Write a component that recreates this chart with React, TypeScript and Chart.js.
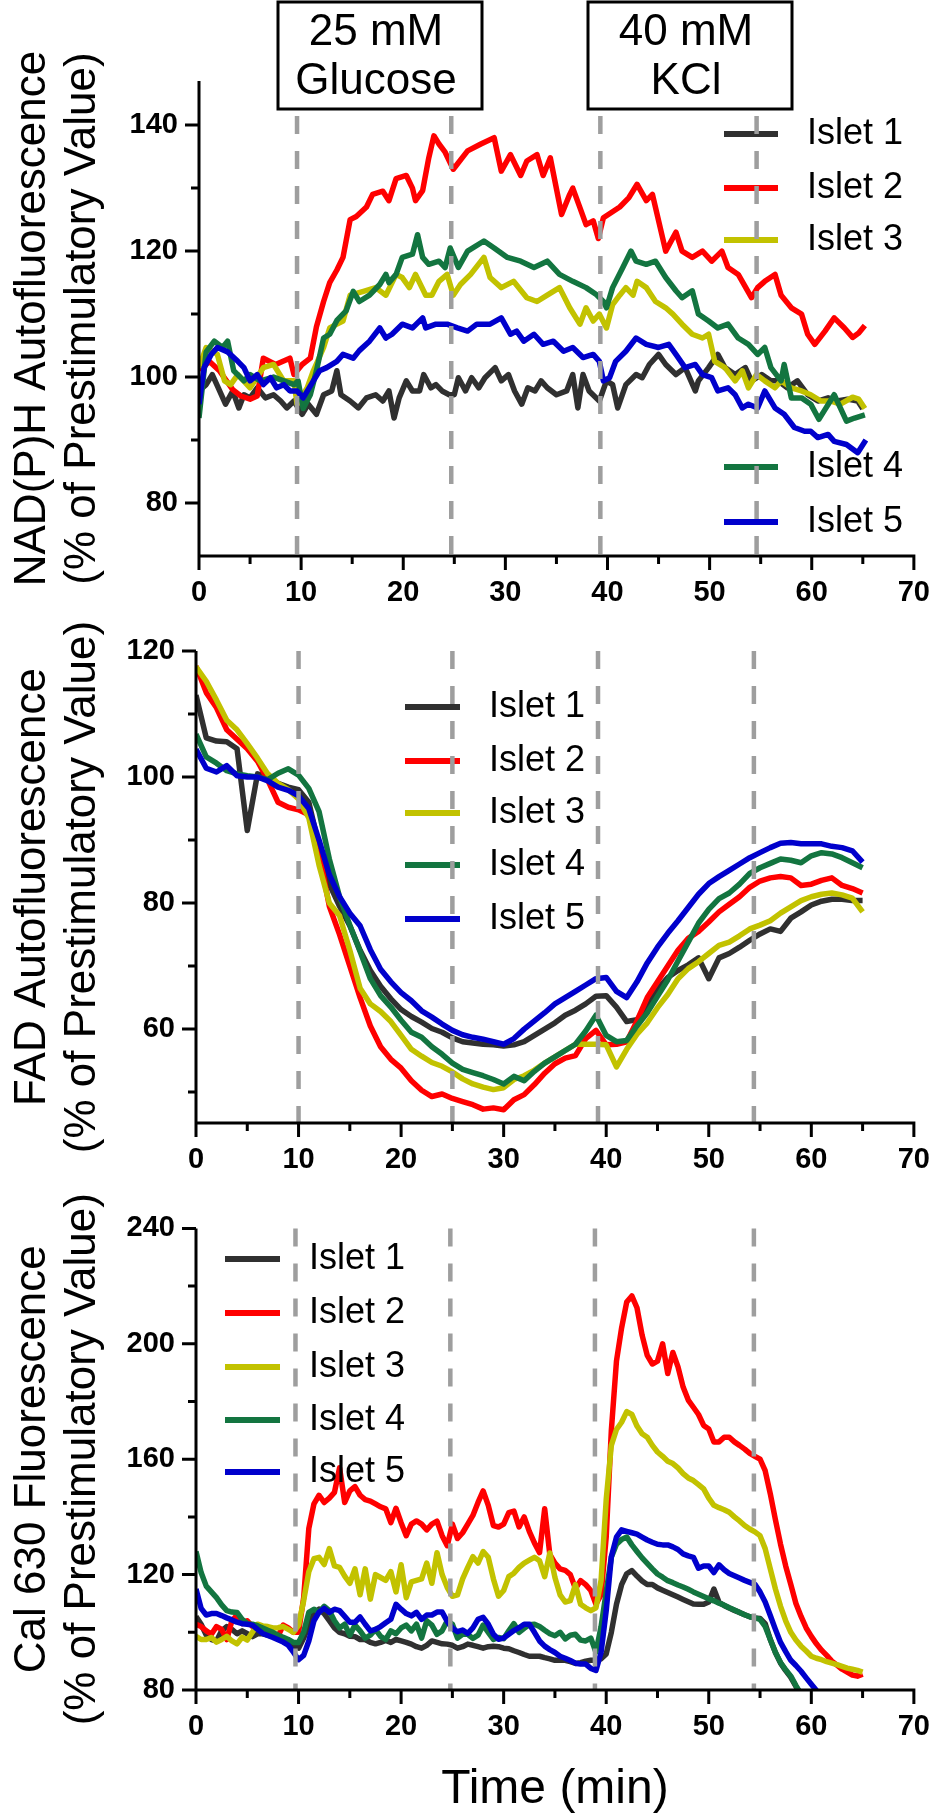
import React, { useEffect, useRef } from 'react';
import { Chart, registerables } from 'chart.js';

Chart.register(...registerables);

const FONT = '"Liberation Sans", Arial, Helvetica, sans-serif';

const SERIES_NAMES = ['Islet 1', 'Islet 2', 'Islet 3', 'Islet 4', 'Islet 5'];
const SERIES_COLORS = ['#303030', '#ff0000', '#c2c200', '#137540', '#0000cc'];

const X_TICKS = [0, 10, 20, 30, 40, 50, 60, 70];
const X_MINOR = [5, 15, 25, 35, 45, 55, 65];

// shared time categories (minutes) for panels 2 and 3
const MIN_STEP1 = Array.from({ length: 66 }, (_, i) => i);
const MIN_STEP_HALF = Array.from({ length: 131 }, (_, i) => i / 2);

// ---------- Panel 1: NAD(P)H (read points: time, value) ----------
const P1_ISLET1_T = [0, 0.7, 1.3, 1.8, 2.6, 3.3, 3.9, 4.4, 5.0, 5.7, 6.5, 7.3, 8.0, 8.6, 9.3, 10.1, 10.7, 11.5, 12.2, 13.0, 13.5, 13.9, 14.8, 15.6, 16.4, 17.3, 18.0, 18.6, 19.1, 19.6, 20.3, 20.9, 21.6, 22.0, 22.7, 23.2, 23.8, 24.5, 25.0, 25.4, 26.1, 26.7, 27.4, 28.0, 29.0, 29.6, 30.3, 30.9, 31.6, 32.2, 32.9, 33.5, 34.1, 35.0, 36.0, 36.6, 37.1, 37.6, 38.2, 39.2, 39.9, 40.5, 41.0, 41.8, 42.8, 43.4, 44.1, 45.0, 45.7, 46.7, 47.6, 48.6, 48.9, 49.9, 50.8, 51.5, 52.5, 53.5, 54.1, 55.1, 56.0, 56.7, 57.6, 58.6, 59.6, 60.6, 61.6, 62.5, 63.5, 64.5, 65.0];
const P1_ISLET1_V = [97.8, 98.8, 100.4, 98.6, 95.7, 97.8, 95.1, 97.2, 96.7, 98.3, 96.7, 97.2, 96.2, 95.1, 96.2, 94.1, 95.7, 94.1, 97.2, 97.8, 101, 97.2, 96.2, 95.1, 96.7, 97.2, 96.2, 97.8, 93.5, 96.7, 99.4, 97.8, 97.8, 100.4, 98.3, 98.8, 97.8, 97.2, 97.2, 99.9, 97.8, 99.9, 98.3, 99.9, 101.5, 99.4, 100.4, 97.8, 95.7, 98.3, 97.8, 99.4, 98.3, 97.2, 97.8, 100.4, 95.1, 100.4, 97.8, 96.2, 99.4, 98.8, 95.1, 98.8, 100.4, 99.9, 102, 103.6, 102, 100.4, 101.5, 97.8, 99.4, 101.5, 103.6, 101.5, 100.4, 101.5, 99.4, 100.4, 99.4, 99.4, 98.3, 99.4, 97.2, 96.2, 96.7, 96.2, 96.5, 96.2, 95];
const P1_ISLET2_T = [0.1, 1.0, 2.0, 3.3, 4.1, 5.0, 5.7, 6.3, 7.5, 8.9, 9.3, 10.1, 10.9, 11.5, 12.2, 12.8, 13.5, 14.1, 14.8, 15.4, 16.4, 17.0, 18.0, 18.6, 19.3, 20.3, 20.9, 21.2, 21.9, 22.5, 23.0, 23.5, 24.1, 24.9, 26.3, 27.6, 28.9, 29.6, 30.5, 31.5, 32.1, 33.1, 33.7, 34.4, 35.5, 36.3, 36.6, 37.3, 37.9, 38.6, 39.1, 39.6, 41.2, 42.1, 42.9, 43.8, 44.4, 45.7, 46.7, 47.3, 48.3, 49.3, 50.2, 51.2, 51.8, 52.8, 54.1, 54.7, 55.4, 56.4, 57.0, 58.0, 59.0, 59.6, 60.3, 61.3, 62.2, 63.2, 64.0, 64.6, 65.2];
const P1_ISLET2_V = [101, 102.5, 101, 98, 97, 96.5, 97, 103, 102, 103, 100.4, 102, 103, 108, 112, 115, 117, 119, 125, 125.5, 127, 129, 129.5, 128, 131.5, 132, 130, 128, 129.6, 134.8, 138.3, 137, 135.7, 133, 135.9, 137, 138, 132.7, 135.3, 132, 134.3, 135.3, 132, 134.8, 125.8, 129, 130, 126.9, 124.2, 124.8, 122, 125.3, 127, 128.5, 130.6, 128, 129, 120, 123, 120, 119, 120, 118.4, 120, 117.4, 116.3, 112.6, 114.2, 115.2, 116.3, 113, 111, 110, 106.8, 105.2, 107.3, 109.4, 107.8, 106.3, 107, 108.2];
const P1_ISLET3_T = [0, 0.7, 1.8, 2.5, 3.1, 3.8, 5.0, 6.3, 7.3, 8.3, 9.3, 9.6, 10.6, 11.2, 12.2, 12.8, 13.5, 14.1, 14.8, 16.1, 17.3, 18.3, 19.3, 19.9, 20.6, 21.2, 22.2, 22.8, 23.5, 24.3, 24.9, 25.6, 26.6, 27.9, 28.5, 29.6, 30.8, 32.1, 33.1, 34.1, 35.3, 36.3, 37.3, 37.9, 38.6, 39.2, 39.9, 40.5, 41.2, 41.8, 42.5, 42.9, 43.8, 44.7, 45.7, 46.4, 47.3, 48.3, 49.3, 49.9, 50.5, 51.5, 52.5, 53.2, 53.8, 54.6, 55.4, 56.4, 57.0, 58.0, 59.0, 59.9, 60.9, 61.9, 62.8, 64.0, 64.6, 65.2];
const P1_ISLET3_V = [101.5, 104.7, 103.6, 99.4, 98.8, 100.4, 98.3, 101.5, 102, 99.4, 99.4, 95.7, 98.3, 101, 104.7, 107.8, 108.4, 108.9, 113, 113.6, 114.2, 113, 116.3, 115.8, 114.2, 116.3, 113, 113, 115.2, 116.3, 113, 114.7, 116.3, 119, 115.8, 114.2, 115.2, 112.6, 112, 113, 114.2, 111, 108.4, 111, 108.9, 110, 107.8, 111.5, 113, 114.2, 113, 115.2, 114.2, 112, 111, 110, 108.4, 106.8, 106.2, 106.8, 102.5, 101.5, 99.4, 101, 98.3, 100.4, 99.4, 98.3, 99.4, 98.3, 97.8, 97.2, 96.2, 96.2, 95.7, 96.8, 96.5, 95];
const P1_ISLET4_T = [0, 0.7, 1.5, 2.3, 2.8, 3.4, 4.4, 5.0, 6.0, 7.3, 8.3, 9.3, 9.7, 10.2, 10.9, 11.5, 12.2, 12.8, 13.5, 14.4, 15.1, 15.7, 16.7, 17.7, 18.3, 18.6, 19.3, 19.9, 20.9, 21.4, 21.9, 22.5, 23.5, 24.1, 24.6, 25.4, 26.3, 27.9, 28.9, 30.2, 31.5, 32.8, 34.1, 35.3, 36.6, 37.9, 38.9, 39.6, 39.9, 40.5, 41.5, 42.3, 42.8, 43.8, 44.7, 45.7, 46.7, 47.3, 48.3, 48.9, 49.9, 50.8, 51.8, 52.8, 53.8, 54.7, 55.4, 56.0, 57.0, 57.3, 58.0, 59.0, 59.9, 60.7, 61.2, 62.2, 62.8, 63.4, 64.2, 65.2];
const P1_ISLET4_V = [93.5, 104, 105.7, 104.7, 105.7, 101, 99.4, 100.4, 99.4, 100, 99.4, 98.8, 99.4, 95, 97.2, 101, 106.2, 106.8, 109, 110.5, 113.6, 112, 113, 114.7, 116.3, 115, 116.3, 119, 119.5, 122.6, 119, 117.9, 118.4, 117.4, 120.5, 117.4, 120, 121.6, 120.5, 119, 118.4, 117.4, 118.4, 116.3, 115.2, 114.2, 113.1, 112, 111, 114.2, 117.4, 120, 118.4, 117.9, 118.4, 115.8, 113.7, 112.6, 113.7, 110, 108.9, 107.8, 108.4, 106.2, 105.2, 103.6, 104.7, 101.5, 99.4, 102, 96.7, 96.7, 95.7, 93.3, 94.6, 97.2, 95.1, 93, 93.5, 94];
const P1_ISLET5_T = [0, 0.5, 1.2, 1.8, 2.8, 3.8, 4.4, 5.0, 5.7, 6.3, 7.0, 7.6, 8.3, 8.9, 9.6, 10.2, 11.2, 11.8, 12.5, 13.5, 14.1, 15.1, 15.7, 16.7, 17.7, 18.3, 18.9, 19.9, 20.9, 21.9, 22.2, 23.2, 24.3, 25.3, 26.3, 27.2, 28.5, 29.6, 30.5, 31.1, 31.8, 32.8, 33.7, 34.7, 35.7, 36.6, 37.6, 38.6, 39.2, 39.6, 40.2, 40.8, 41.8, 42.8, 43.8, 45.0, 46.0, 46.7, 47.6, 48.6, 49.3, 50.2, 50.8, 51.8, 52.5, 53.2, 53.8, 54.7, 55.4, 56.4, 57.3, 58.3, 59.3, 59.9, 60.6, 61.6, 62.2, 63.4, 64.5, 65.3];
const P1_ISLET5_V = [95.7, 101.5, 103.6, 104.7, 104, 102.5, 101.5, 99.4, 100.4, 98.8, 99.9, 98.3, 98.8, 97.8, 97.8, 96.7, 99.4, 101, 101.5, 102.5, 103.6, 103, 104.2, 105.7, 107.8, 106.2, 106.8, 108.4, 107.8, 109.4, 107.8, 108.4, 108.4, 107.8, 107.3, 108.4, 108.4, 109.4, 106.8, 107.3, 105.7, 106.8, 105.2, 105.7, 104.1, 104.7, 103.1, 103.6, 102.5, 99.4, 99.9, 102.5, 104.1, 106.2, 105.2, 104.7, 105.2, 103.6, 101.5, 102, 100.4, 99.9, 97.8, 98.3, 97.2, 95.1, 95.7, 95.1, 97.8, 95.1, 94.1, 92, 91.4, 91.4, 90.4, 90.9, 89.8, 89.3, 88, 90];
const P1_Y_MAJOR = [80, 100, 120, 140];
const P1_Y_MINOR = [90, 110, 130];
const P1_EVENTS = [9.6, 24.7, 39.3, 54.6];

// ---------- Panel 2: FAD (one value per minute) ----------
const P2_ISLET1 = [113, 106.2, 105.7, 105.6, 104.5, 91.5, 100.5, 100, 99, 98.4, 98, 96, 89, 83, 79.5, 76.4, 72.5, 69.3, 66.8, 64.8, 63.1, 62, 61.1, 60.1, 59.5, 58.6, 58, 57.8, 57.6, 57.5, 57.3, 57.5, 58, 59, 60, 61, 62.2, 63, 64, 65.2, 65.3, 63.5, 61.2, 61.5, 63.5, 66.3, 68.2, 69.3, 70.2, 71.3, 68, 71.3, 72, 73, 74.1, 75.1, 75.9, 75.5, 77.6, 78.6, 79.7, 80.3, 80.6, 80.6, 80.4, 80.4];
const P2_ISLET2 = [117.6, 113.4, 111, 107.5, 106, 104.5, 102.5, 99.5, 96, 95.2, 94.8, 94, 88, 79.5, 75, 70, 65, 60.5, 57.2, 55.2, 53.8, 51.8, 50.3, 49.3, 49.7, 49, 48.5, 48, 47.3, 47.5, 47.2, 48.8, 49.6, 51.2, 53, 54.5, 55.4, 55.8, 58.5, 59.8, 57.5, 57.6, 58, 61.3, 65, 67.5, 70, 72.5, 74.4, 75.5, 77, 78.6, 79.8, 81, 82.5, 83.5, 84, 84.2, 84, 82.8, 83, 83.6, 84, 82.8, 82.3, 81.6];
const P2_ISLET3 = [117.5, 115.2, 112.2, 109, 107.5, 105.3, 103, 100.5, 99, 98, 96.5, 93.5, 86, 80, 78, 72.5, 66.5, 64, 62.8, 61.2, 59, 56.8, 55.7, 54.7, 54.1, 53.2, 52.1, 51.3, 50.8, 50.4, 50.7, 52, 52.6, 53.5, 54.6, 55.6, 56.6, 57.6, 57.6, 57.6, 57.5, 54, 56.8, 59.2, 61, 63.4, 65.5, 68, 69.6, 70.7, 72, 73.3, 73.8, 74.8, 75.9, 76.5, 77.2, 78.4, 79.4, 80.4, 81, 81.4, 81.6, 81.3, 80.8, 78.6];
const P2_ISLET4 = [106.8, 103.2, 102.2, 101, 100.5, 100.2, 100, 99.6, 100.6, 101.3, 100.3, 98.2, 94.5, 87, 81, 76.5, 72.3, 68, 65.3, 63.5, 61.4, 59.5, 58.7, 57.2, 56, 54.6, 53.6, 53.1, 52.6, 52, 51.3, 52.5, 51.8, 53.3, 54.6, 55.6, 56.6, 57.6, 59.7, 62.2, 59, 58, 58.2, 60.5, 62.6, 65.2, 67.8, 70.8, 73.8, 76.8, 79, 80.7, 81.6, 83, 84.7, 85.6, 86.3, 87, 86.8, 86.4, 87.5, 88, 87.8, 87.2, 86.4, 85.6];
const P2_ISLET5 = [104.4, 101.4, 100.8, 101.8, 100.2, 100, 100, 99.4, 98.4, 97.9, 97, 95, 90, 84.5, 81, 78.4, 76.4, 72.6, 69.5, 67.5, 65.8, 64.5, 62.9, 61.9, 60.8, 59.8, 59.1, 58.7, 58.4, 58, 57.6, 58.5, 60, 61.3, 62.6, 64, 65, 66, 67, 68, 68.2, 66, 65, 67.5, 70.5, 73, 75.2, 77.2, 79.3, 81.4, 83.1, 84.2, 85.2, 86.2, 87.2, 88, 88.8, 89.5, 89.6, 89.4, 89.4, 89.4, 89, 88.8, 88.3, 86.5];
const P2_Y_MAJOR = [60, 80, 100, 120];
const P2_Y_MINOR = [50, 70, 90, 110];
const P2_EVENTS = [10.0, 25.0, 39.2, 54.4];

// ---------- Panel 3: Cal 630 (half-minute samples) ----------
const P3_ISLET1 = [105.5, 102.8, 99, 97.5, 97, 100.5, 102, 101, 99.5, 100.5, 99.5, 98.5, 99.5, 99.5, 99, 98.5, 98.5, 97.5, 97, 95.5, 94.5, 98, 102.5, 106.5, 108, 106.5, 104, 101.5, 100, 99.5, 98.6, 98.5, 97.5, 97.5, 96.5, 96, 96.5, 97.2, 96.5, 97.5, 97, 96.5, 95.9, 95, 94.5, 95.5, 97, 96.5, 96, 95.9, 95.5, 94.5, 95, 95.9, 95.5, 95, 94.5, 95, 95.2, 95, 94.5, 94.3, 93.6, 93, 92.3, 91.7, 91.7, 91.7, 91.2, 90.8, 90.3, 90.3, 90.3, 89.8, 89.2, 89.5, 90, 90.3, 90.3, 90.8, 92.5, 100, 109.7, 116.5, 120.3, 121.4, 119.5, 117.8, 116.6, 116.6, 115.4, 114.6, 113.8, 113, 112.2, 111.4, 110.6, 109.8, 109.7, 109.7, 110.5, 115, 110.4, 109.3, 108.4, 107.6, 106.9, 106.1, 105.4, 105, 104.8, 103, 97.5, 93, 89.3, 86.7, 84.4, 81.2, 78.3];
const P3_ISLET2 = [102.8, 102, 100.5, 99.3, 102, 101, 97.5, 104, 106, 103, 104, 102, 101, 100.5, 100, 99.5, 98.6, 102.5, 101.5, 100, 100, 112, 136, 144.5, 147.5, 145, 146.5, 148.5, 157, 145, 149, 150.5, 147.5, 146, 145.5, 144.5, 143.5, 142.8, 138, 143, 138, 133.5, 137.5, 138.6, 137.5, 135.5, 137.5, 138.5, 133.5, 130, 137.5, 132.5, 134.5, 137.5, 140.5, 145, 149, 144, 137, 136.5, 137.5, 141.5, 142, 136.5, 140, 135, 131, 127.6, 142.8, 127, 124, 122, 121.5, 120, 115.2, 117.9, 116.5, 114.5, 109.7, 113, 133, 170, 194, 205.5, 214.5, 216.6, 212.5, 203, 196, 193, 194, 200, 189.7, 197, 192, 185, 180.5, 178, 175.5, 171.7, 170.5, 166, 166, 167.6, 167.6, 166, 164.8, 163.5, 162, 161, 160, 156, 148, 139, 130.5, 123, 116.6, 110, 105.5, 101.5, 98.6, 96, 93.8, 92, 90, 88.6, 87.2, 86.2, 85.2, 84.8, 85.5];
const P3_ISLET3 = [98.6, 97.5, 97.5, 98.2, 96.6, 97.5, 98.6, 97, 96, 98.3, 97.3, 100, 102.8, 102.2, 102, 101.5, 101.6, 102, 101, 100, 102.5, 111, 121, 125.5, 126, 123.5, 129, 123, 122.5, 119.5, 117, 122, 113, 122, 111.5, 120, 119, 118, 121, 114, 123.4, 112, 117.5, 118, 118.5, 124, 117, 127.6, 120, 115.5, 112.5, 113, 118.5, 122.5, 126.2, 124, 128, 126, 118.5, 112.5, 114.5, 119.3, 120.5, 122.5, 124, 125, 126, 124.8, 119.3, 127.5, 119, 113, 110.5, 111, 116.5, 109.7, 108.5, 107.5, 108.5, 118, 146, 164.8, 170.3, 172.8, 176.5, 175.5, 171.5, 168.8, 167.6, 164.8, 162.5, 161, 159.3, 158.5, 157, 155, 153.5, 152.6, 151.2, 149.7, 146.5, 144, 143.2, 142.5, 141.6, 140, 138.6, 137, 135.8, 134.8, 133.5, 129, 122, 115, 109, 104, 100, 97.3, 95.2, 93.5, 91.7, 91, 90.5, 89.8, 89.3, 88.8, 88.2, 87.6, 87.2, 86.8, 86.2];
const P3_ISLET4 = [128, 120.7, 116, 114, 112, 109.5, 107.5, 107, 106.9, 104.5, 103, 102.8, 102.3, 101.5, 100.7, 100, 99, 98.3, 97.5, 96.5, 96.5, 100, 106.9, 108, 107, 109, 107.5, 104, 101.5, 102.8, 99, 102.5, 100.5, 98, 99, 101, 98.6, 97.5, 100.5, 99.5, 101.5, 102.5, 100.5, 102.8, 98, 104, 102.5, 99.3, 100.5, 104, 102.8, 98, 99.3, 99.3, 97.9, 99, 102.5, 100, 97.5, 98.2, 97.8, 100.5, 103, 100, 101.4, 102.6, 102.8, 102, 100.7, 99.5, 98.8, 100, 97.7, 99, 99.3, 97.3, 97, 98, 93.1, 102, 114, 126, 130.5, 132.2, 133, 130.3, 128, 125.8, 123.9, 122, 120.2, 119.1, 117.9, 117.2, 116.4, 115.7, 114.9, 114, 113.2, 112.4, 111.6, 110.9, 110.1, 109.4, 108.5, 107.7, 106.9, 106.1, 105.4, 105, 104.5, 102, 97.5, 93, 89.5, 87, 84.8, 81.5, 78.5];
const P3_ISLET5 = [115, 108.3, 106, 106.5, 106.5, 105.8, 105, 104.3, 103.5, 103, 102.8, 102.5, 101, 99.6, 98.9, 98.2, 97.4, 96.6, 95.5, 93.1, 90.5, 92, 97, 104, 107, 108.3, 106.9, 108, 107.5, 105.5, 103.5, 103.5, 105.3, 102.8, 100.5, 101, 102, 103.3, 104.5, 109.7, 108, 106.5, 105.7, 106.9, 104.5, 106, 106, 107, 107, 103.8, 101.4, 100.2, 100.8, 99.6, 101.5, 104.5, 105.2, 102.8, 99.3, 97.6, 98, 99.3, 100.6, 101.6, 102.8, 102.8, 100, 97, 95.2, 94, 93, 91.7, 91, 90.2, 89.3, 89, 89, 87.5, 86.8, 93, 107.5, 126.2, 133, 135.5, 135, 134.5, 134, 133, 132, 131.2, 130.5, 130.3, 130.3, 129.6, 128.7, 127.2, 126.5, 126, 122.2, 123, 123, 120.7, 123.4, 121.7, 120.4, 119.6, 118.8, 118, 117.3, 116.6, 114, 110.5, 105.8, 101, 96.5, 93.3, 90.3, 88.5, 86.5, 84.2, 82, 79.8];
const P3_Y_MAJOR = [80, 120, 160, 200, 240];
const P3_Y_MINOR = [100, 140, 180, 220];
const P3_EVENTS = [9.7, 24.8, 38.9, 54.4];

const TICK_FONT = { family: FONT, size: 29, weight: 'bold' as const };

function buildDatasets(times: number[][], series: number[][]) {
  return series.map((vals, i) => ({
    label: SERIES_NAMES[i],
    data: vals.map((v, k) => ({ x: times[i][k], y: v })),
    borderColor: SERIES_COLORS[i],
    backgroundColor: SERIES_COLORS[i],
    borderWidth: 5.5,
    pointRadius: 0,
    tension: 0,
    fill: false,
    borderJoinStyle: 'round' as const,
    order: -i,
  }));
}

const decorPlugin = {
  id: 'decor',
  afterDatasetsDraw(chart: any, _args: any, o: any) {
    const { ctx, chartArea: ca, scales } = chart;
    const xs = scales.x;
    const off = o.canvasTop;
    ctx.save();
    // legend
    ctx.lineWidth = 6;
    ctx.lineCap = 'butt';
    ctx.font = `36px ${FONT}`;
    ctx.textBaseline = 'middle';
    ctx.textAlign = 'left';
    ctx.fillStyle = '#000';
    o.legend.rows.forEach((ry: number, i: number) => {
      const y = ry - off;
      ctx.strokeStyle = SERIES_COLORS[i];
      ctx.beginPath();
      ctx.moveTo(o.legend.x0, y);
      ctx.lineTo(o.legend.x1, y);
      ctx.stroke();
      ctx.fillText(SERIES_NAMES[i], o.legend.textX, y);
    });
    // event dashed lines
    ctx.strokeStyle = '#9e9e9e';
    ctx.lineWidth = 4.5;
    ctx.setLineDash([18, 17]);
    o.events.forEach((t: number) => {
      const px = xs.getPixelForValue(t);
      ctx.beginPath();
      ctx.moveTo(px, ca.top);
      ctx.lineTo(px, ca.bottom);
      ctx.stroke();
    });
    ctx.setLineDash([]);
    // stimulus boxes
    (o.boxes || []).forEach((b: any) => {
      ctx.fillStyle = '#fff';
      ctx.fillRect(b.x0, b.y0 - off, b.x1 - b.x0, b.y1 - b.y0);
      ctx.strokeStyle = '#000';
      ctx.lineWidth = 3;
      ctx.strokeRect(b.x0, b.y0 - off, b.x1 - b.x0, b.y1 - b.y0);
      ctx.fillStyle = '#000';
      ctx.font = `44px ${FONT}`;
      ctx.textAlign = 'center';
      ctx.textBaseline = 'middle';
      ctx.fillText(b.lines[0], b.textX, b.lineY[0] - off);
      ctx.fillText(b.lines[1], b.textX, b.lineY[1] - off);
    });
    ctx.restore();
  },
  afterDraw(chart: any, _args: any, o: any) {
    const { ctx, chartArea: ca, scales } = chart;
    const xs = scales.x;
    const ys = scales.y;
    const off = o.canvasTop;
    ctx.save();
    ctx.strokeStyle = '#000';
    ctx.lineWidth = 3;
    ctx.lineCap = 'butt';
    const xl = xs.getPixelForValue(0);
    const xr = xs.getPixelForValue(70);
    const yb = ca.bottom;
    ctx.beginPath();
    ctx.moveTo(xl, ca.top);
    ctx.lineTo(xl, yb + 1.5);
    ctx.moveTo(xl - 1.5, yb);
    ctx.lineTo(xr + 1.5, yb);
    X_TICKS.forEach((v) => {
      const px = xs.getPixelForValue(v);
      ctx.moveTo(px, yb);
      ctx.lineTo(px, yb + 14);
    });
    X_MINOR.forEach((v) => {
      const px = xs.getPixelForValue(v);
      ctx.moveTo(px, yb);
      ctx.lineTo(px, yb + 8);
    });
    o.yMajor.forEach((v: number) => {
      const py = ys.getPixelForValue(v);
      ctx.moveTo(xl, py);
      ctx.lineTo(xl - 14, py);
    });
    o.yMinor.forEach((v: number) => {
      const py = ys.getPixelForValue(v);
      ctx.moveTo(xl, py);
      ctx.lineTo(xl - 8, py);
    });
    ctx.stroke();
    // axis titles
    ctx.fillStyle = '#000';
    ctx.font = `44px ${FONT}`;
    ctx.textAlign = 'center';
    ctx.textBaseline = 'middle';
    const cy = (ca.top + ca.bottom) / 2;
    o.title.forEach((t: string, i: number) => {
      ctx.save();
      ctx.translate(o.titleX[i], cy);
      ctx.rotate(-Math.PI / 2);
      ctx.fillText(t, 0, 0);
      ctx.restore();
    });
    if (o.xTitle) {
      ctx.font = `48px ${FONT}`;
      ctx.fillText(o.xTitle.text, (xl + xr) / 2, o.xTitle.y - off);
    }
    ctx.restore();
  },
};

type PanelSpec = {
  canvasTop: number;
  canvasHeight: number;
  plotLeft: number;
  plotRight: number;
  plotTop: number;
  plotBottom: number;
  yMin: number;
  yMax: number;
  yMajor: number[];
  yMinor: number[];
  times: number[][];
  series: number[][];
  events: number[];
  title: string[];
  legend: { x0: number; x1: number; textX: number; rows: number[] };
  boxes?: any[];
  xTitle?: { text: string; y: number };
};

const PANELS: PanelSpec[] = [
  {
    canvasTop: 0, canvasHeight: 620,
    plotLeft: 199, plotRight: 920, plotTop: 81, plotBottom: 556,
    yMin: 71.6, yMax: 147,
    yMajor: P1_Y_MAJOR, yMinor: P1_Y_MINOR,
    times: [P1_ISLET1_T, P1_ISLET2_T, P1_ISLET3_T, P1_ISLET4_T, P1_ISLET5_T],
    series: [P1_ISLET1_V, P1_ISLET2_V, P1_ISLET3_V, P1_ISLET4_V, P1_ISLET5_V],
    events: P1_EVENTS,
    title: ['NAD(P)H Autofluorescence', '(% of Prestimulatory Value)'],
    legend: { x0: 724, x1: 778, textX: 807, rows: [134, 188, 240, 467, 522] },
    boxes: [
      { x0: 278, x1: 482, y0: 2, y1: 109, lines: ['25 mM', 'Glucose'], textX: 376, lineY: [33, 82] },
      { x0: 588, x1: 792, y0: 2, y1: 109, lines: ['40 mM', 'KCl'], textX: 686, lineY: [33, 82] },
    ],
  },
  {
    canvasTop: 610, canvasHeight: 590,
    plotLeft: 196, plotRight: 925, plotTop: 651, plotBottom: 1123,
    yMin: 45.1, yMax: 120,
    yMajor: P2_Y_MAJOR, yMinor: P2_Y_MINOR,
    times: [MIN_STEP1, MIN_STEP1, MIN_STEP1, MIN_STEP1, MIN_STEP1],
    series: [P2_ISLET1, P2_ISLET2, P2_ISLET3, P2_ISLET4, P2_ISLET5],
    events: P2_EVENTS,
    title: ['FAD Autofluorescence', '(% of Prestimulatory Value)'],
    legend: { x0: 405, x1: 460, textX: 489, rows: [707, 761, 813, 865, 919] },
  },
  {
    canvasTop: 1190, canvasHeight: 628,
    plotLeft: 196, plotRight: 921, plotTop: 1218, plotBottom: 1690,
    yMin: 80, yMax: 240,
    yMajor: P3_Y_MAJOR, yMinor: P3_Y_MINOR,
    times: [MIN_STEP_HALF, MIN_STEP_HALF, MIN_STEP_HALF, MIN_STEP_HALF, MIN_STEP_HALF],
    series: [P3_ISLET1, P3_ISLET2, P3_ISLET3, P3_ISLET4, P3_ISLET5],
    events: P3_EVENTS,
    title: ['Cal 630 Fluorescence', '(% of Prestimulatory Value)'],
    legend: { x0: 225, x1: 280, textX: 309, rows: [1259, 1313, 1367, 1420, 1472] },
    xTitle: { text: 'Time (min)', y: 1790 },
  },
];

function Panel({ spec }: { spec: PanelSpec }) {
  const ref = useRef<HTMLCanvasElement | null>(null);
  useEffect(() => {
    if (!ref.current) return;
    const s = spec;
    const chart = new Chart(ref.current, {
      type: 'line',
      data: { datasets: buildDatasets(s.times, s.series) as any },
      options: {
        responsive: false,
        maintainAspectRatio: false,
        animation: false,
        devicePixelRatio: 1,
        events: [],
        layout: {
          padding: {
            left: 0,
            top: s.plotTop - s.canvasTop,
            right: 950 - s.plotRight,
            bottom: 0,
          },
        },
        plugins: {
          legend: { display: false },
          tooltip: { enabled: false },
          decor: {
            canvasTop: s.canvasTop,
            yMajor: s.yMajor,
            yMinor: s.yMinor,
            events: s.events,
            title: s.title,
            titleX: [33, 83],
            legend: s.legend,
            boxes: s.boxes,
            xTitle: s.xTitle,
          },
        } as any,
        scales: {
          x: {
            type: 'linear',
            min: 0,
            max: 70,
            grid: { display: false, drawTicks: false },
            border: { display: false },
            afterBuildTicks: (sc: any) => {
              sc.ticks = X_TICKS.map((v) => ({ value: v }));
            },
            afterFit: (sc: any) => {
              sc.height = s.canvasTop + s.canvasHeight - s.plotBottom;
            },
            ticks: { autoSkip: false, maxRotation: 0, padding: 20, font: TICK_FONT, color: '#000' },
          },
          y: {
            type: 'linear',
            min: s.yMin,
            max: s.yMax,
            grid: { display: false, drawTicks: false },
            border: { display: false },
            afterBuildTicks: (sc: any) => {
              sc.ticks = s.yMajor.map((v) => ({ value: v }));
            },
            afterFit: (sc: any) => {
              sc.width = s.plotLeft;
            },
            ticks: { autoSkip: false, padding: 21, font: TICK_FONT, color: '#000' },
          },
        },
      },
      plugins: [decorPlugin as any],
    });
    return () => chart.destroy();
  }, [spec]);
  return (
    <canvas
      ref={ref}
      width={950}
      height={spec.canvasHeight}
      style={{ position: 'absolute', left: 0, top: spec.canvasTop, width: 950, height: spec.canvasHeight }}
    />
  );
}

export default function App() {
  return (
    <div style={{ position: 'absolute', left: 0, top: 0, width: 950, height: 1818, background: '#fff', overflow: 'hidden' }}>
      {PANELS.map((p, i) => (
        <Panel key={i} spec={p} />
      ))}
    </div>
  );
}
